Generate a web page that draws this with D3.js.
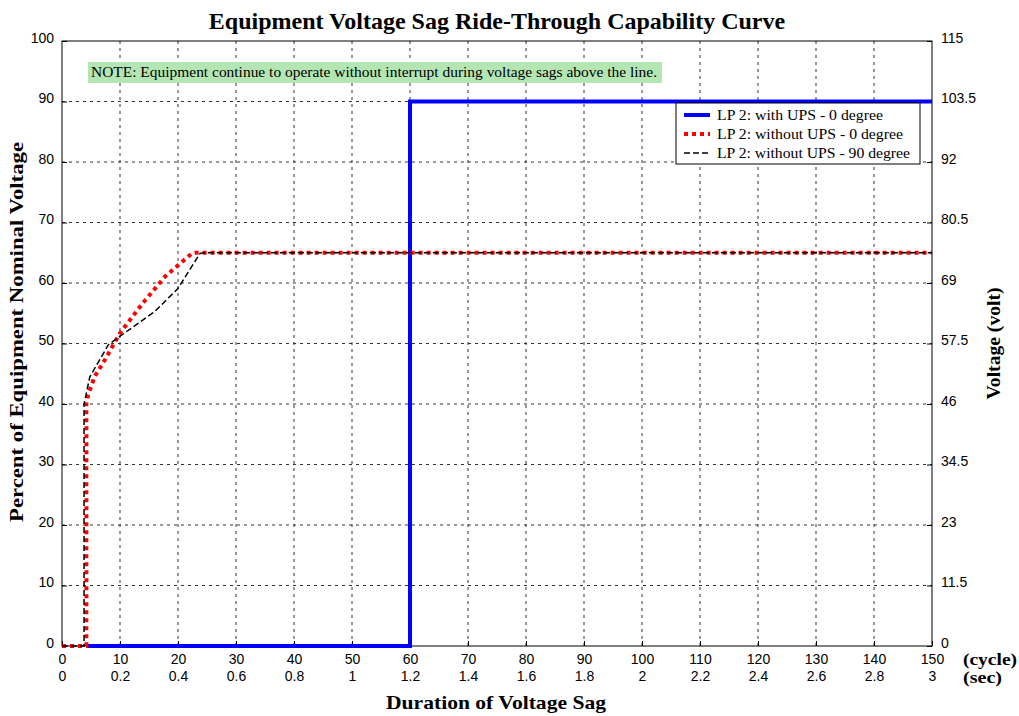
<!DOCTYPE html>
<html>
<head>
<meta charset="utf-8">
<script src="https://cdn.jsdelivr.net/npm/d3@7"></script>
<style>
body { margin: 0; background: #fff; }
</style>
</head>
<body>
<div class="viz"></div>
<script>
const width = 1019;
const height = 716;

// data
const cycleTicks = [0, 10, 20, 30, 40, 50, 60, 70, 80, 90, 100, 110, 120, 130, 140, 150];
const secLabels = ["0", "0.2", "0.4", "0.6", "0.8", "1", "1.2", "1.4", "1.6", "1.8", "2", "2.2", "2.4", "2.6", "2.8", "3"];
const pctTicks = [0, 10, 20, 30, 40, 50, 60, 70, 80, 90, 100];
const voltLabels = ["0", "11.5", "23", "34.5", "46", "57.5", "69", "80.5", "92", "103.5", "115"];

// [cycle, percent]
const withUps0 = [[4.2, 0], [60, 0], [60, 90], [150, 90]];
const noUps0 = [[0, 0], [4.2, 0], [4.2, 40], [4.5, 41.5], [5.6, 44.5], [7.4, 47.3], [10, 51.7],
    [13.7, 56.4], [17.8, 61.1], [22.4, 64.9], [23, 65], [150, 65]];
const noUps90 = [[0, 0], [3.8, 0], [3.8, 40], [4.8, 44.5], [8, 49.8], [10, 51.2], [16, 55.3],
    [20, 59.1], [23.8, 64.9], [24.5, 65], [150, 65]];

const series = [
    { name: "LP 2: with UPS - 0 degree", data: withUps0, color: "#0000ff", w: 4, dash: null, len: 166 },
    { name: "LP 2: without UPS - 0 degree", data: noUps0, color: "#ff0000", w: 4, dash: "4,4", len: 186 },
    { name: "LP 2: without UPS - 90 degree", data: noUps90, color: "#000000", w: 1.5, dash: "6,3", len: 193 }
];

const margin = { left: 62, right: 87, top: 41, bottom: 70 };
const plotW = width - margin.left - margin.right;
const plotH = height - margin.top - margin.bottom;
const serif = "'Liberation Serif', 'Times New Roman', serif";
const tickFont = "Arial, 'Liberation Sans', sans-serif";

const svg = d3.select(".viz")
    .append("svg")
    .attr("width", width)
    .attr("height", height);

const x = d3.scaleLinear().domain([0, 150]).range([margin.left, margin.left + plotW]);
const y = d3.scaleLinear().domain([0, 100]).range([margin.top + plotH, margin.top]);

// grid
const grid = svg.append("g");
grid.selectAll(".vg")
    .data(cycleTicks.slice(1, -1))
    .enter().append("line")
    .attr("x1", d => x(d)).attr("x2", d => x(d))
    .attr("y1", y(0)).attr("y2", y(100))
    .attr("stroke", "#333").attr("stroke-width", 1).attr("stroke-dasharray", "3,4");
grid.selectAll(".hg")
    .data(pctTicks.slice(1, -1))
    .enter().append("line")
    .attr("x1", x(0)).attr("x2", x(150))
    .attr("y1", d => y(d)).attr("y2", d => y(d))
    .attr("stroke", "#333").attr("stroke-width", 1).attr("stroke-dasharray", "3,4");

// frame
svg.append("rect")
    .attr("x", x(0)).attr("y", y(100))
    .attr("width", plotW).attr("height", plotH)
    .attr("fill", "none").attr("stroke", "#000").attr("stroke-width", 1);

// axes
const xAxis = svg.append("g")
    .attr("transform", `translate(0,${y(0)})`)
    .call(d3.axisBottom(x).tickValues(cycleTicks).tickSize(-5).tickPadding(8).tickSizeOuter(0));
const xAxisSec = svg.append("g")
    .attr("transform", `translate(0,${y(0) + 17})`)
    .call(d3.axisBottom(x).tickValues(cycleTicks).tickFormat((d, i) => secLabels[i]).tickSize(0).tickPadding(8));
const yAxis = svg.append("g")
    .attr("transform", `translate(${x(0)},0)`)
    .call(d3.axisLeft(y).tickValues(pctTicks).tickSize(-5).tickPadding(8).tickSizeOuter(0));
const yAxisR = svg.append("g")
    .attr("transform", `translate(${x(150)},0)`)
    .call(d3.axisRight(y).tickValues(pctTicks).tickFormat((d, i) => voltLabels[i]).tickSize(-5).tickPadding(9).tickSizeOuter(0));

[xAxis, xAxisSec, yAxis, yAxisR].forEach(a => {
    a.select(".domain").remove();
    a.selectAll("text").style("font-family", tickFont).style("font-size", "14px").attr("fill", "#000");
    a.selectAll("line").attr("stroke", "#000");
});
yAxis.selectAll("text").attr("dy", "0.1em");
yAxisR.selectAll("text").attr("dy", "0.1em");

// note box
svg.append("rect")
    .attr("x", 88).attr("y", 62).attr("width", 574).attr("height", 21)
    .attr("fill", "#b3e6b3");
svg.append("text")
    .attr("x", 91).attr("y", 77)
    .attr("textLength", 566).attr("lengthAdjust", "spacingAndGlyphs")
    .style("font-family", serif)
    .style("font-size", "14px")
    .text("NOTE: Equipment continue to operate without interrupt during voltage sags above the line.");

// lines
const line = d3.line().x(d => x(d[0])).y(d => y(d[1]));
svg.selectAll(".series")
    .data(series)
    .enter().append("path")
    .attr("d", d => line(d.data))
    .attr("fill", "none")
    .attr("stroke", d => d.color)
    .attr("stroke-width", d => d.w)
    .attr("stroke-dasharray", d => d.dash);

// legend
const lg = svg.append("g").attr("transform", "translate(676,103)");
lg.append("rect").attr("width", 244).attr("height", 61)
    .attr("fill", "#fff").attr("stroke", "#000").attr("stroke-width", 1);
series.forEach((s, i) => {
    const ly = 12 + i * 19;
    lg.append("line")
        .attr("x1", 8).attr("x2", 34).attr("y1", ly).attr("y2", ly)
        .attr("stroke", s.color)
        .attr("stroke-width", s.w)
        .attr("stroke-dasharray", s.dash);
    lg.append("text")
        .attr("x", 41).attr("y", ly + 5)
        .attr("textLength", s.len).attr("lengthAdjust", "spacingAndGlyphs")
        .style("font-family", serif)
        .style("font-size", "14px")
        .text(s.name);
});

// titles
svg.append("text")
    .attr("x", 497).attr("y", 29)
    .attr("text-anchor", "middle")
    .style("font-family", serif).style("font-weight", "bold").style("font-size", "24px")
    .text("Equipment Voltage Sag Ride-Through Capability Curve");
svg.append("text")
    .attr("x", 496).attr("y", 709)
    .attr("text-anchor", "middle")
    .attr("textLength", 220).attr("lengthAdjust", "spacingAndGlyphs")
    .style("font-family", serif).style("font-weight", "bold").style("font-size", "19px")
    .text("Duration of Voltage Sag");
svg.append("text")
    .attr("transform", `translate(23,332) rotate(-90)`)
    .attr("text-anchor", "middle")
    .attr("textLength", 380).attr("lengthAdjust", "spacingAndGlyphs")
    .style("font-family", serif).style("font-weight", "bold").style("font-size", "19px")
    .text("Percent of Equipment Nominal Voltage");
svg.append("text")
    .attr("transform", `translate(1000,${y(50)}) rotate(-90)`)
    .attr("text-anchor", "middle")
    .attr("textLength", 112).attr("lengthAdjust", "spacingAndGlyphs")
    .style("font-family", serif).style("font-weight", "bold").style("font-size", "19px")
    .text("Voltage (volt)");
svg.append("text")
    .attr("x", 963).attr("y", 665)
    .attr("textLength", 54).attr("lengthAdjust", "spacingAndGlyphs")
    .style("font-family", serif).style("font-weight", "bold").style("font-size", "17px")
    .text("(cycle)");
svg.append("text")
    .attr("x", 963).attr("y", 683)
    .attr("textLength", 39).attr("lengthAdjust", "spacingAndGlyphs")
    .style("font-family", serif).style("font-weight", "bold").style("font-size", "17px")
    .text("(sec)");
</script>
</body>
</html>
